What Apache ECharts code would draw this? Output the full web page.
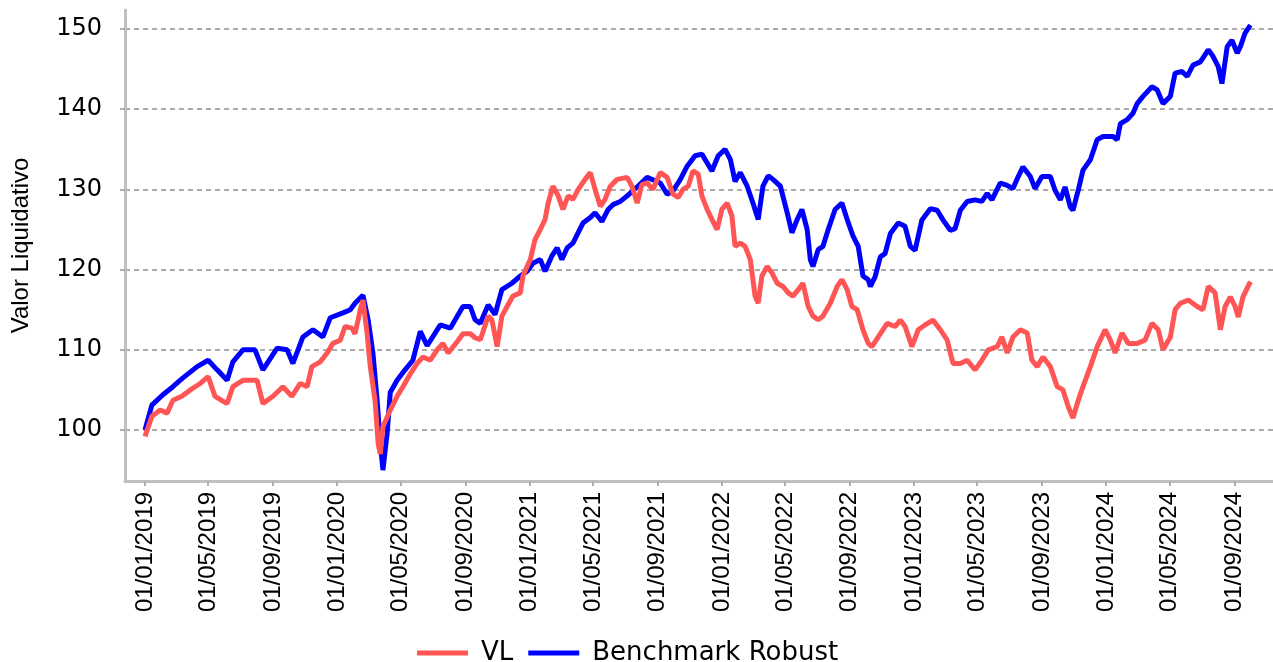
<!DOCTYPE html>
<html>
<head>
<meta charset="utf-8">
<script src="https://cdn.jsdelivr.net/npm/echarts@6/dist/echarts.min.js"></script>
<style>
html,body{margin:0;padding:0;background:#fff;}
#chart{width:1273px;height:662px;}
</style>
</head>
<body>
<div id="chart"></div>
<script>
// Dates are stored as days since 01/01/2019
const startDate = '2019-01-01';
const axisStartDate = '2018-11-24';
const axisEndDate = '2024-11-13';
const tickDates = ['2019-01-01','2019-05-01','2019-09-01','2020-01-01','2020-05-01','2020-09-01',
  '2021-01-01','2021-05-01','2021-09-01','2022-01-01','2022-05-01','2022-09-01',
  '2023-01-01','2023-05-01','2023-09-01','2024-01-01','2024-05-01','2024-09-01'];

const seriesNames = ['VL', 'Benchmark Robust'];

const vlDays = [0,13,29,42,53,70,86,105,120,133,156,167,186,213,224,243,262,279,295,308,317,333,346,357,371,380,393,399,409,414,422,428,437,443,447,452,466,479,490,504,517,528,542,555,566,576,593,604,618,627,637,652,659,669,678,688,699,713,718,732,741,751,760,766,775,785,794,804,813,823,836,846,855,865,874,884,897,916,925,935,944,954,965,979,992,1003,1013,1022,1032,1041,1051,1058,1068,1077,1087,1096,1106,1115,1121,1131,1140,1150,1159,1165,1172,1182,1191,1201,1212,1222,1231,1241,1250,1260,1269,1279,1288,1302,1315,1324,1334,1343,1353,1364,1374,1381,1393,1410,1425,1435,1444,1457,1469,1482,1497,1511,1524,1535,1549,1562,1577,1590,1602,1619,1628,1638,1649,1663,1676,1685,1695,1706,1720,1733,1744,1754,1763,1773,1782,1796,1809,1824,1834,1843,1856,1868,1885,1900,1913,1925,1934,1948,1957,1967,1982,1999,2010,2020,2033,2043,2052,2062,2071,2077,2086,2100];
const vlValues = [99.2,101.7,102.5,102.1,103.7,104.2,105.0,105.8,106.65,104.2,103.3,105.4,106.2,106.2,103.3,104.2,105.4,104.2,105.8,105.4,107.9,108.5,109.6,110.8,111.2,112.9,112.7,112.0,115.0,116.2,112.0,107.9,103.7,98.3,97.0,100.4,102.5,104.2,105.4,107.0,108.3,109.1,108.7,110.0,110.8,109.6,111.0,112.0,112.0,111.5,111.25,114.2,113.75,110.4,114.2,115.4,116.7,117.1,119.2,121.25,123.75,125.0,126.25,128.3,130.4,129.2,127.5,129.2,128.75,130.0,131.25,132.1,130.0,127.9,128.75,130.4,131.25,131.5,130.4,128.3,130.6,130.8,130.0,132.1,131.5,129.4,129.0,130.0,130.4,132.3,131.9,129.2,127.5,126.25,125.0,127.5,128.3,126.7,122.9,123.3,122.9,121.25,116.7,115.8,119.2,120.4,119.6,118.3,117.9,117.1,116.7,117.5,118.3,115.4,114.2,113.75,114.2,115.8,117.9,118.75,117.5,115.4,115.0,112.5,110.8,110.4,111.6,113.3,112.9,113.7,112.9,110.4,112.5,113.1,113.7,112.5,111.2,108.3,108.3,108.7,107.5,108.7,110.0,110.4,111.6,109.6,111.6,112.5,112.1,108.7,107.9,109.1,107.9,105.4,105.0,102.9,101.5,103.7,105.4,107.9,110.4,112.5,111.2,109.6,112.1,110.8,110.8,111.2,113.3,112.5,110.0,111.6,115.0,115.8,116.2,115.4,115.0,117.9,117.1,112.5,115.4,116.6,115.4,114.1,116.6,118.5];

const bmDays = [0,13,34,53,72,99,120,137,156,167,186,209,224,251,270,281,300,319,338,352,376,390,399,414,424,433,441,447,452,460,466,479,494,509,523,536,561,580,604,618,627,637,652,665,678,697,713,726,737,751,760,773,783,792,802,813,823,832,846,855,868,880,889,903,916,935,954,979,992,1003,1017,1030,1045,1058,1068,1077,1089,1102,1112,1121,1131,1144,1155,1165,1174,1184,1193,1207,1220,1229,1239,1248,1258,1264,1269,1279,1288,1298,1311,1324,1334,1345,1355,1364,1374,1378,1387,1397,1406,1416,1431,1444,1454,1463,1476,1492,1505,1516,1530,1539,1549,1562,1577,1590,1600,1609,1625,1638,1649,1659,1668,1682,1691,1704,1720,1729,1739,1748,1758,1763,1773,1782,1796,1809,1820,1839,1847,1853,1866,1877,1885,1896,1913,1923,1934,1948,1957,1970,1980,1991,2005,2020,2029,2039,2046,2056,2065,2075,2081,2090,2100];
const bmValues = [100.0,103.1,104.4,105.4,106.5,107.9,108.7,107.5,106.2,108.5,110.0,110.0,107.5,110.2,110.0,108.3,111.6,112.5,111.6,114.0,114.6,115.0,115.8,116.8,113.7,109.6,103.7,98.4,95.0,99.6,104.7,106.2,107.5,108.7,112.3,110.5,113.1,112.7,115.4,115.4,113.75,113.3,115.6,114.4,117.5,118.3,119.2,119.8,120.8,121.25,119.8,121.7,122.7,121.25,122.7,123.3,124.6,125.8,126.5,127.1,126.0,127.5,128.1,128.5,129.2,130.3,131.5,130.8,129.4,129.8,131.25,132.9,134.2,134.4,133.3,132.3,134.2,135.0,133.75,131.0,132.1,130.4,128.3,126.25,130.4,131.7,131.25,130.4,127.1,124.6,126.25,127.5,125.0,121.25,120.4,122.5,122.9,125.0,127.5,128.3,126.25,124.2,122.9,119.2,118.75,117.9,119.1,121.6,122.0,124.5,125.8,125.4,122.9,122.4,126.2,127.6,127.4,126.2,124.9,125.1,127.4,128.5,128.7,128.5,129.5,128.7,130.8,130.5,130.1,131.6,132.8,131.6,130.1,131.6,131.6,129.9,128.7,130.3,127.8,127.4,129.9,132.4,133.7,136.2,136.6,136.6,136.2,138.2,138.7,139.5,140.7,141.6,142.8,142.4,140.7,141.6,144.5,144.7,144.1,145.5,145.9,147.4,146.6,145.3,143.2,147.8,148.6,147.0,147.8,149.5,150.5];

const yMin = 93.64;
const yMax = 152.37;

const DAY = 86400000;
function ts(s){ const p = s.split('-'); return Date.UTC(+p[0], +p[1]-1, +p[2]); }
const base = ts(startDate);
function pairs(days, vals){ return days.map((d,i)=>[base + d*DAY, vals[i]]); }
const tickValues = tickDates.map(ts);
function fmt(v){
  const d = new Date(v);
  const dd = String(d.getUTCDate()).padStart(2,'0');
  const mm = String(d.getUTCMonth()+1).padStart(2,'0');
  return dd + '/' + mm + '/' + d.getUTCFullYear();
}

const chart = echarts.init(document.getElementById('chart'));
chart.setOption({
  backgroundColor: '#ffffff',
  animation: false,
  grid: { left: 125, right: 0, top: 10, bottom: 181, containLabel: false },
  legend: {
    data: seriesNames,
    left: 412, top: 635,
    icon: 'rect', itemWidth: 51, itemHeight: 5, itemGap: 15,
    textStyle: { fontFamily: 'DejaVu Sans', fontSize: 26, color: '#000', padding: [0,0,0,8] }
  },
  xAxis: {
    type: 'value',
    min: ts(axisStartDate), max: ts(axisEndDate),
    axisLine: { show: true, lineStyle: { color: '#c0c0c0', width: 3 } },
    axisTick: { show: true, customValues: tickValues, length: 5, lineStyle: { color: '#b0b0b0', width: 2 } },
    axisLabel: {
      customValues: tickValues, rotate: 90, margin: 11,
      formatter: fmt,
      fontFamily: 'Liberation Sans', fontSize: 24, color: '#000'
    },
    splitLine: { show: false }
  },
  yAxis: {
    type: 'value',
    min: yMin, max: yMax, splitNumber: 5,
    name: 'Valor Liquidativo', nameLocation: 'middle', nameGap: 92, nameRotate: 90,
    nameTextStyle: { fontFamily: 'Liberation Sans', fontSize: 24, color: '#000' },
    axisLine: { show: true, lineStyle: { color: '#c0c0c0', width: 3 } },
    axisTick: { show: true, length: 7, lineStyle: { color: '#999', type: [5,3], width: 1.5 } },
    axisLabel: {
      margin: 23, showMinLabel: false, showMaxLabel: false,
      formatter: v => String(Math.round(v)),
      fontFamily: 'DejaVu Sans', fontSize: 24, color: '#000'
    },
    splitLine: { show: true, showMinLine: false, showMaxLine: false,
      lineStyle: { color: '#909090', type: [5,4], width: 1.5 } }
  },
  series: [
    { name: seriesNames[0], type: 'line', data: pairs(vlDays, vlValues), showSymbol: false, z: 3,
      color: '#ff5555', lineStyle: { color: '#ff5555', width: 5 } },
    { name: seriesNames[1], type: 'line', data: pairs(bmDays, bmValues), showSymbol: false, z: 2,
      color: '#0000ff', lineStyle: { color: '#0000ff', width: 5 } }
  ]
});
</script>
</body>
</html>
